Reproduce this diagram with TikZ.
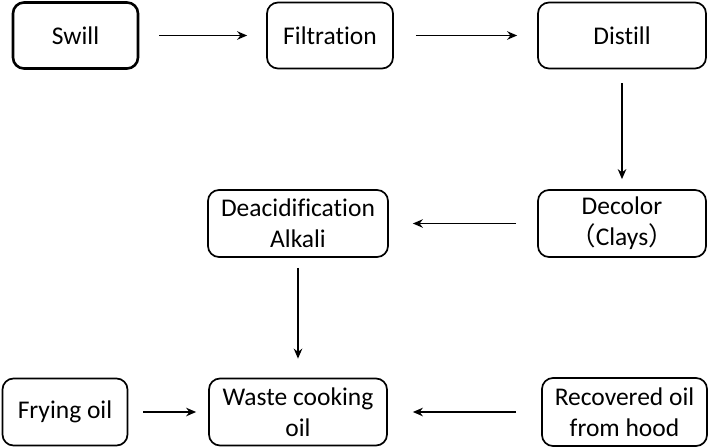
\documentclass[tikz,border=0pt]{standalone}
\usepackage{fontspec}
\setmainfont{Carlito}[RawFeature={-liga;-clig;-dlig}]
\newfontfamily\cjk{Noto Sans CJK SC}
\usepackage{tikz}
\usetikzlibrary{arrows.meta}
\tikzset{>={Stealth[length=10pt,width=8.5pt]}}
\tikzset{stage/.style = {shape=rectangle,draw,rounded corners=11pt,line width=1.7pt,
                         align=center,inner sep=0pt,font=\fontsize{25.5}{31}\selectfont}}
\tikzset{flow/.style = {->,line width=1.7pt,shorten <=20pt,shorten >=20pt}}

\begin{document}
\begin{tikzpicture}[x=1pt,y=-1pt]
                \useasboundingbox (0,0) rectangle (709,447);
                \node[stage,line width=2.6pt,minimum width=125pt,minimum height=66pt] (swill) at (75.5,35.5) {Swill};
                \node[stage,minimum width=126pt,minimum height=66pt] (filt) at (330,35.5) {Filtration};
                \node[stage,minimum width=168pt,minimum height=66pt] (dist) at (622,35.5) {Distill};
                \node[stage,minimum width=168pt,minimum height=67pt] (decol) at (622,223.5) {Decolor\\{\cjk （}Clays{\cjk ）}};
                \node[stage,minimum width=180pt,minimum height=67pt] (deacid) at (298,223.5) {Deacidification\\Alkali};
                \node[stage,minimum width=125pt,minimum height=67pt] (fry) at (65,412) {Frying oil};
                \node[stage,minimum width=178pt,minimum height=67pt] (waste) at (298,412) {Waste cooking\\oil};
                \node[stage,minimum width=165pt,minimum height=68pt] (hood) at (624.5,412) {Recovered oil\\from hood};

                \draw[flow,shorten >=19pt] (swill) -- (filt);
                \draw[flow,shorten <=22pt] (filt) -- (dist);
                \draw[flow,shorten <=14pt,shorten >=10pt] (dist) -- (decol);
                \draw[flow,shorten <=21pt,shorten >=24pt] (decol) -- (deacid);
                \draw[flow,shorten <=10pt,shorten >=19pt] (deacid) -- (waste);
                \draw[flow,shorten <=15pt,shorten >=12pt] (fry) -- (waste);
                \draw[flow,shorten <=25pt,shorten >=25pt] (hood) -- (waste);
            \end{tikzpicture}
\end{document}
